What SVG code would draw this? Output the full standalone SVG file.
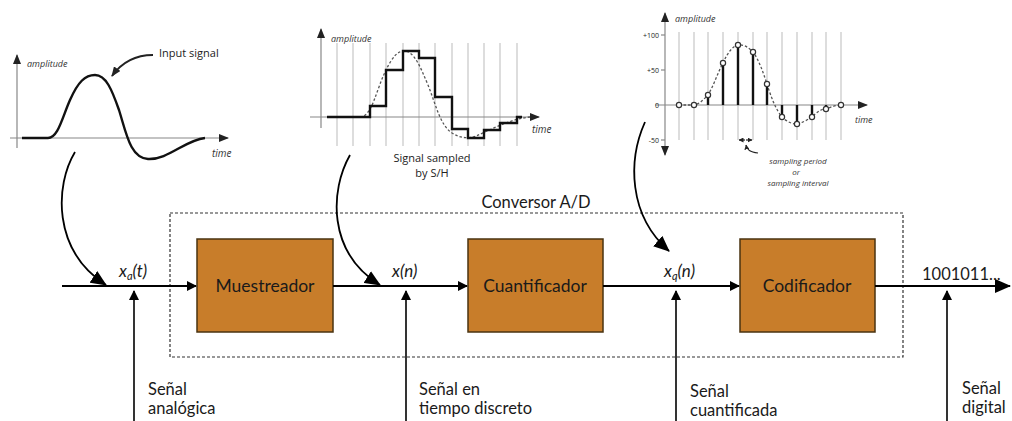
<svg xmlns="http://www.w3.org/2000/svg" width="1012" height="421" viewBox="0 0 1012 421">
<style>
.ax{stroke:#888;stroke-width:1.2;fill:none}
.grid{stroke:#bbb;stroke-width:1;fill:none}
.sig{stroke:#111;stroke-width:2.4;fill:none}
.dot{stroke:#555;stroke-width:1.3;stroke-dasharray:2.5 2;fill:none}
.sm{font-family:"Open Sans","Liberation Sans",sans-serif;font-style:italic;fill:#333}
.lbl{font-family:"Open Sans","Liberation Sans",sans-serif;fill:#222}
.box{fill:#C87D2A;stroke:#4a3310;stroke-width:1.5}
.bt{font-family:Lato,"Liberation Sans",sans-serif;font-size:17.5px;fill:#1a1a1a;text-anchor:middle}
.t{font-family:Lato,"Liberation Sans",sans-serif;font-size:16.5px;fill:#1a1a1a}
.it{font-family:Lato,"Liberation Sans",sans-serif;font-size:17px;font-style:italic;fill:#1a1a1a}
.ln{stroke:#000;stroke-width:2;fill:none}
.vl{stroke:#000;stroke-width:1.6;fill:none}
.cv{stroke:#000;stroke-width:1.8;fill:none}
</style>
<defs>
<marker id="ah" markerWidth="10" markerHeight="10" refX="9" refY="5" orient="auto" markerUnits="userSpaceOnUse">
<path d="M0,0 L10,5 L0,10 Z" fill="#000"/>
</marker>
<marker id="ahl" markerWidth="16" markerHeight="14" refX="15" refY="7" orient="auto" markerUnits="userSpaceOnUse">
<path d="M0,0 L16,7 L0,14 Z" fill="#000"/>
</marker>
<marker id="ahg" markerWidth="10" markerHeight="8" refX="9" refY="4" orient="auto" markerUnits="userSpaceOnUse">
<path d="M0,0 L10,4 L0,8 Z" fill="#222"/>
</marker>
<marker id="ahs" markerWidth="5" markerHeight="5" refX="4.5" refY="2.5" orient="auto" markerUnits="userSpaceOnUse">
<path d="M0,0 L5,2.5 L0,5 Z" fill="#222"/>
</marker>
</defs>

<!-- chart 1: input signal -->
<g id="chart-input">
<line class="ax" x1="17" y1="148" x2="17" y2="55" marker-end="url(#ahg)"/>
<line class="ax" x1="10" y1="138" x2="228" y2="138" marker-end="url(#ahg)"/>
<text class="sm" x="27" y="67" font-size="9">amplitude</text>
<text class="sm" x="212" y="157" font-size="10">time</text>
<path class="sig" d="M22,138 L48,138 C58,138 62,118 70,100 C78,82 85,75 95,75 C106,75 112,90 119,110 C126,132 130,158 148,159 C168,160 185,140 205,138"/>
<path d="M153,55 C135,55 122,62 112,76" stroke="#222" stroke-width="2" fill="none" marker-end="url(#ahg)"/>
<text class="lbl" x="159" y="57" font-size="11">Input signal</text>
</g>

<!-- chart 2: sampled by S/H -->
<g id="chart-sh">
<g class="grid">
<line x1="337" y1="43" x2="337" y2="146"/><line x1="353" y1="43" x2="353" y2="146"/><line x1="370" y1="43" x2="370" y2="146"/><line x1="386" y1="43" x2="386" y2="146"/><line x1="403" y1="43" x2="403" y2="146"/><line x1="419" y1="43" x2="419" y2="146"/><line x1="435" y1="43" x2="435" y2="146"/><line x1="452" y1="43" x2="452" y2="146"/><line x1="468" y1="43" x2="468" y2="146"/><line x1="484" y1="43" x2="484" y2="146"/><line x1="500" y1="43" x2="500" y2="146"/><line x1="517" y1="43" x2="517" y2="146"/>
</g>
<line class="ax" x1="321" y1="128" x2="321" y2="29" marker-end="url(#ahg)"/>
<line class="ax" x1="310" y1="117" x2="539" y2="117" marker-end="url(#ahg)"/>
<text class="sm" x="331" y="42" font-size="9">amplitude</text>
<text class="sm" x="532" y="133" font-size="10">time</text>
<path class="dot" d="M360,117 C372,117 376,90 386,70 C393,56 398,51 404,51 C414,51 420,66 428,85 C436,105 440,125 452,133 C460,138 468,139 476,136 C490,130 510,119 530,117"/>
<path class="sig" d="M327,117 L370,117 L370,106 L386,106 L386,70 L403,70 L403,51 L419,51 L419,58 L435,58 L435,97 L452,97 L452,129 L468,129 L468,138 L484,138 L484,130 L500,130 L500,123 L517,123 L517,117 L522,117"/>
<text class="lbl" x="432" y="162" font-size="11" text-anchor="middle">Signal sampled</text>
<text class="lbl" x="432" y="177" font-size="11" text-anchor="middle">by S/H</text>
</g>

<!-- chart 3: quantized samples -->
<g id="chart-samples">
<g class="grid">
<line x1="679" y1="32" x2="679" y2="140"/><line x1="694" y1="32" x2="694" y2="140"/><line x1="708" y1="32" x2="708" y2="140"/><line x1="723" y1="32" x2="723" y2="140"/><line x1="738" y1="32" x2="738" y2="140"/><line x1="753" y1="32" x2="753" y2="140"/><line x1="767" y1="32" x2="767" y2="140"/><line x1="782" y1="32" x2="782" y2="140"/><line x1="797" y1="32" x2="797" y2="140"/><line x1="812" y1="32" x2="812" y2="140"/><line x1="826" y1="32" x2="826" y2="140"/><line x1="841" y1="32" x2="841" y2="140"/>
</g>
<line class="ax" x1="665" y1="84" x2="665" y2="13" marker-end="url(#ahg)"/>
<line class="ax" x1="665" y1="84" x2="665" y2="155" marker-end="url(#ahg)"/>
<line class="ax" x1="655" y1="105" x2="867" y2="105" marker-end="url(#ahg)"/>
<g class="ax"><line x1="661" y1="35" x2="665" y2="35"/><line x1="661" y1="70" x2="665" y2="70"/><line x1="661" y1="140" x2="665" y2="140"/></g>
<g class="lbl" font-size="7" text-anchor="end">
<text x="659" y="37.5">+100</text><text x="659" y="72.5">+50</text><text x="659" y="107.5">0</text><text x="659" y="142.5">-50</text>
</g>
<text class="sm" x="675" y="22" font-size="9">amplitude</text>
<text class="sm" x="855" y="123" font-size="9">time</text>
<path class="dot" d="M679,105 L694,105 C700,104 704,99 708,95 C714,85 718,72 723,63 C728,52 733,46 738,45 C744,44 749,48 753,52 C759,60 763,72 767,84 C771,97 776,110 782,117 C787,122 792,124 797,124 C803,123 808,119 812,117 C817,112 821,109 826,109 C831,107 836,105 841,105"/>
<g class="sig" stroke-width="2.2">
<line x1="708" y1="105" x2="708" y2="95"/><line x1="723" y1="105" x2="723" y2="63"/><line x1="738" y1="105" x2="738" y2="45"/><line x1="753" y1="105" x2="753" y2="52"/><line x1="767" y1="105" x2="767" y2="84"/><line x1="782" y1="105" x2="782" y2="117"/><line x1="797" y1="105" x2="797" y2="124"/><line x1="812" y1="105" x2="812" y2="117"/><line x1="826" y1="105" x2="826" y2="109"/>
</g>
<g fill="#fff" stroke="#333" stroke-width="1.2">
<circle cx="679" cy="105" r="2.6"/><circle cx="694" cy="105" r="2.6"/><circle cx="708" cy="95" r="2.6"/><circle cx="723" cy="63" r="2.6"/><circle cx="738" cy="45" r="2.6"/><circle cx="753" cy="52" r="2.6"/><circle cx="767" cy="84" r="2.6"/><circle cx="782" cy="117" r="2.6"/><circle cx="797" cy="124" r="2.6"/><circle cx="812" cy="117" r="2.6"/><circle cx="826" cy="109" r="2.6"/><circle cx="841" cy="105" r="2.6"/>
</g>
<line x1="745" y1="140" x2="739" y2="140" stroke="#222" stroke-width="1.2" marker-end="url(#ahs)"/>
<line x1="746" y1="140" x2="752" y2="140" stroke="#222" stroke-width="1.2" marker-end="url(#ahs)"/>
<path d="M758,153 C750,152 747,150 746,145" stroke="#222" stroke-width="1.2" fill="none" marker-end="url(#ahs)"/>
<g class="sm" font-size="8" text-anchor="middle">
<text x="798" y="164">sampling period</text><text x="796" y="175">or</text><text x="798" y="186">sampling interval</text>
</g>
</g>

<!-- A/D converter frame -->
<g id="conversor">
<rect x="170" y="213" width="733" height="144" fill="none" stroke="#333" stroke-width="1.2" stroke-dasharray="3 2"/>
<text class="t" x="536" y="208" font-size="19" text-anchor="middle">Conversor A/D</text>
</g>

<g id="muestreador">
<rect class="box" x="197" y="239" width="136" height="93"/>
<text class="bt" x="265" y="292">Muestreador</text>
</g>
<g id="cuantificador">
<rect class="box" x="468" y="239" width="135" height="93"/>
<text class="bt" x="535" y="292">Cuantificador</text>
</g>
<g id="codificador">
<rect class="box" x="740" y="239" width="135" height="93"/>
<text class="bt" x="807" y="292">Codificador</text>
</g>

<!-- connectors -->
<g id="connectors">
<line class="ln" x1="62" y1="286" x2="196" y2="286" marker-end="url(#ah)"/>
<line class="ln" x1="333" y1="286" x2="467" y2="286" marker-end="url(#ah)"/>
<line class="ln" x1="603" y1="286" x2="739" y2="286" marker-end="url(#ah)"/>
<line class="ln" x1="875" y1="286" x2="1010" y2="286" marker-end="url(#ahl)"/>
<line class="vl" x1="134" y1="421" x2="134" y2="291" marker-end="url(#ah)"/>
<line class="vl" x1="406" y1="421" x2="406" y2="291" marker-end="url(#ah)"/>
<line class="vl" x1="676" y1="421" x2="676" y2="291" marker-end="url(#ah)"/>
<line class="vl" x1="947" y1="421" x2="947" y2="291" marker-end="url(#ah)"/>
<path class="cv" d="M75,152 C55,185 52,250 106,285" marker-end="url(#ahl)"/>
<path class="cv" d="M350,155 C330,190 327,252 380,285" marker-end="url(#ahl)"/>
<path class="cv" d="M645,122 C628,160 628,215 669,251" marker-end="url(#ahl)"/>
</g>

<!-- signal labels -->
<g id="labels">
<text class="it" x="119" y="277">x<tspan font-size="11" dy="3">a</tspan><tspan dy="-3">(t)</tspan></text>
<text class="it" x="392" y="277">x(n)</text>
<text class="it" x="664" y="277">x<tspan font-size="11" dy="3">q</tspan><tspan dy="-3">(n)</tspan></text>
<text class="t" x="922" y="280" font-size="18">1001011...</text>
<text class="t" x="148" y="395">Señal</text>
<text class="t" x="148" y="414">analógica</text>
<text class="t" x="419" y="395">Señal en</text>
<text class="t" x="419" y="414">tiempo discreto</text>
<text class="t" x="690" y="397">Señal</text>
<text class="t" x="690" y="416">cuantificada</text>
<text class="t" x="962" y="394">Señal</text>
<text class="t" x="962" y="413">digital</text>
</g>
</svg>
